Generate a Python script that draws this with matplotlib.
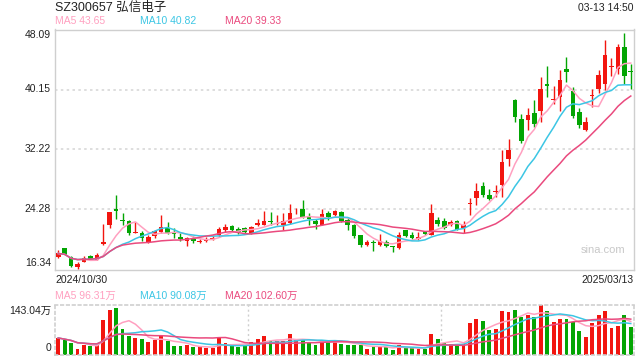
import numpy as np
import pandas as pd
import matplotlib
matplotlib.use("Agg")
import matplotlib.pyplot as plt

plt.rcParams['font.family'] = ['Liberation Sans', 'Noto Sans CJK SC', 'DejaVu Sans']

# daily K-line data, 2024/10/30 .. 2025/03/13
opens = [17.97, 19.12, 18.02, 16.65, 17.35, 18.19, 17.66, 19.70, 22.29, 24.28,
         22.95, 22.82, 21.20, 21.19, 19.96, 20.75, 21.32, 21.85, 21.28, 20.66,
         20.09, 20.44, 19.96, 20.09, 20.40, 20.84, 21.50, 22.16, 21.72, 21.85,
         21.19, 22.20, 22.29, 22.73, 22.40, 22.29, 22.51, 23.75, 24.28, 23.48,
         22.73, 22.29, 23.75, 23.53, 23.93, 22.95, 22.20, 20.84, 19.56, 19.96,
         19.56, 20.00, 19.40, 19.21, 21.50, 20.84, 20.40, 21.28, 20.97, 22.95,
         22.69, 22.20, 22.82, 21.85, 25.00, 25.78, 27.45, 26.26, 26.60, 27.58,
         30.98, 38.74, 36.23, 36.10, 36.98, 37.33, 40.94, 38.80, 39.18, 42.93,
         39.97, 37.20, 34.77, 39.35, 40.28, 40.94, 43.10, 42.84, 45.71, 42.60]
closes = [18.46, 18.24, 16.78, 17.13, 17.84, 17.75, 18.32, 19.96, 23.97, 24.06,
          22.73, 21.19, 21.25, 20.49, 20.66, 21.41, 21.98, 21.19, 21.06, 20.31,
          20.53, 20.09, 20.09, 20.40, 20.45, 21.76, 21.94, 21.63, 21.28, 21.28,
          21.98, 22.51, 22.73, 22.60, 22.50, 22.73, 23.84, 23.84, 23.31, 23.04,
          22.34, 23.62, 23.26, 24.06, 22.73, 22.20, 20.75, 19.56, 19.96, 19.90,
          20.09, 19.43, 19.30, 20.97, 20.75, 20.53, 20.66, 21.01, 23.75, 22.42,
          21.85, 22.69, 21.63, 22.29, 25.10, 26.66, 26.26, 25.69, 26.70, 30.54,
          32.13, 36.49, 33.36, 36.80, 35.57, 40.28, 40.59, 38.90, 41.43, 42.49,
          36.67, 35.43, 35.87, 39.45, 42.09, 44.74, 43.20, 45.84, 41.96, 42.50]
highs = [18.94, 19.20, 18.10, 17.27, 18.15, 18.30, 18.46, 22.30, 24.00, 26.13,
         23.75, 22.90, 22.60, 21.40, 20.97, 21.60, 23.50, 22.60, 21.85, 21.19,
         20.60, 20.75, 20.31, 20.60, 20.75, 21.98, 22.40, 22.20, 21.94, 22.00,
         22.10, 23.04, 24.06, 23.97, 23.60, 23.84, 24.94, 24.50, 25.51, 23.75,
         23.04, 24.28, 24.06, 24.20, 24.06, 23.20, 22.30, 20.97, 20.18, 20.18,
         21.10, 20.30, 19.50, 21.30, 21.63, 21.28, 21.28, 21.40, 25.07, 23.26,
         23.10, 22.95, 22.90, 22.82, 25.82, 27.72, 27.90, 27.05, 27.58, 32.21,
         33.54, 38.92, 36.89, 37.77, 38.74, 41.87, 43.28, 40.63, 42.75, 44.47,
         40.42, 37.77, 36.45, 40.20, 42.75, 46.68, 44.30, 46.15, 47.69, 43.50]
lows = [17.90, 18.20, 16.70, 16.47, 17.30, 17.60, 17.60, 19.60, 21.85, 23.00,
        22.20, 20.97, 21.15, 20.09, 19.78, 20.50, 21.20, 21.00, 20.53, 20.10,
        19.43, 19.90, 19.78, 20.00, 20.20, 20.66, 21.30, 21.28, 21.06, 21.10,
        21.00, 22.10, 22.20, 22.20, 22.20, 21.63, 22.40, 23.70, 23.13, 22.20,
        21.76, 22.20, 22.95, 23.40, 22.60, 21.63, 20.53, 19.30, 19.43, 18.85,
        19.50, 19.30, 18.63, 19.10, 20.60, 20.31, 20.30, 20.90, 20.84, 22.07,
        21.70, 22.07, 21.50, 21.19, 23.61, 24.85, 25.90, 25.50, 25.95, 25.90,
        30.00, 35.83, 33.05, 34.77, 35.20, 35.87, 39.10, 38.20, 37.33, 41.08,
        36.36, 35.10, 34.68, 37.86, 39.67, 40.06, 41.96, 42.18, 40.86, 40.20]
# volume in 万 (10k shares)
volumes = [47.7, 40.9, 33.1, 14.6, 26.3, 24.3, 27.2, 99.2, 128.4, 135.2,
           73.0, 52.5, 48.6, 43.8, 35.0, 40.9, 52.5, 38.9, 23.4, 23.4,
           26.3, 21.4, 21.4, 18.5, 18.5, 47.7, 33.1, 23.4, 21.4, 26.3,
           36.0, 43.8, 52.5, 38.9, 38.0, 38.0, 58.4, 42.8, 42.8, 33.1,
           26.3, 42.8, 36.0, 42.8, 29.2, 26.3, 26.3, 26.3, 16.5, 23.3,
           23.3, 21.4, 11.7, 26.3, 18.5, 18.5, 16.5, 14.6, 58.4, 45.7,
           34.0, 31.1, 26.3, 31.1, 91.5, 102.2, 96.3, 70.1, 73.0, 125.5,
           122.6, 128.4, 109.0, 113.8, 107.0, 143.04, 125.5, 94.4, 102.2, 102.2,
           94.4, 67.1, 50.6, 91.5, 113.8, 125.5, 76.9, 81.7, 113.8, 79.8]

title = "SZ300657 弘信电子"
stamp = "03-13 14:50"
first_date = "2024/10/30"
last_date = "2025/03/13"
price_ticks = [48.09, 40.15, 32.22, 24.28, 16.34]
vol_max = 143.04

RED = "#f2150f"
GREEN = "#03a503"
C_MA5 = "#ffa0c0"
C_MA10 = "#3cc6e4"
C_MA20 = "#ea4a7e"

df = pd.DataFrame({"open": opens, "close": closes, "high": highs,
                   "low": lows, "vol": volumes})
x = np.arange(len(df))
up = df["close"] >= df["open"]
colors = np.where(up, RED, GREEN)

W, H = 640, 360
fig = plt.figure(figsize=(6.4, 3.6), dpi=100)


def px_rect(left, top, right, bottom):
    return [left / W, 1 - bottom / H, (right - left) / W, (bottom - top) / H]


def ftext(px, py, s, **kw):
    fig.text(px / W, 1 - py / H, s, **kw)


# ---- price panel ----
ax = fig.add_axes(px_rect(55, 29.5, 634, 269.5))
ax.set_xlim(-0.5, len(df) - 0.5)
ax.set_ylim(price_ticks[-1], price_ticks[0])
for t in price_ticks[1:-1]:
    ax.axhline(t, color="#d8d8d8", lw=1.2, ls=(0, (1.5, 2)), zorder=0)

ax.vlines(x, df["low"], df["high"], colors=colors, lw=1.0, zorder=2)
body = np.maximum((df["close"] - df["open"]).abs(), 0.12)
bottom = np.minimum(df["open"], df["close"])
ax.bar(x, body, bottom=bottom, width=0.72, color=colors, lw=0, zorder=3)

ma5 = df["close"].rolling(5, min_periods=1).mean()
ma10 = df["close"].rolling(10, min_periods=1).mean()
ma20 = df["close"].rolling(20, min_periods=1).mean()
ax.plot(x, ma5, color=C_MA5, lw=1.1, zorder=4)
ax.plot(x, ma10, color=C_MA10, lw=1.1, zorder=4)
ax.plot(x, ma20, color=C_MA20, lw=1.1, zorder=4)

ax.set_xticks([])
ax.set_yticks([])
for s in ax.spines.values():
    s.set_color("#cfcfcf")
    s.set_linewidth(1.0)
ax.text(0.985, 0.06, "sina.com", transform=ax.transAxes, ha="right",
        va="bottom", color="#c8c8c8", fontsize=8)

# ---- volume panel ----
vax = fig.add_axes(px_rect(55, 305, 634, 354.5))
vax.set_xlim(-0.5, len(df) - 0.5)
vax.set_ylim(0, vol_max)
vax.bar(x, df["vol"], width=0.6, color=colors, lw=0, zorder=2)
vax.plot(x, df["vol"].rolling(5, min_periods=1).mean(), color=C_MA5, lw=1.1, zorder=3)
vax.plot(x, df["vol"].rolling(10, min_periods=1).mean(), color=C_MA10, lw=1.1, zorder=3)
vax.plot(x, df["vol"].rolling(20, min_periods=1).mean(), color=C_MA20, lw=1.1, zorder=3)
for xv in [29.5, 59.5]:
    vax.axvline(xv, color="#cfcfcf", lw=1.0, ls=(0, (1.5, 2)), zorder=0)
vax.set_xticks([])
vax.set_yticks([])
for s in vax.spines.values():
    s.set_color("#cfcfcf")
    s.set_linewidth(1.2)
    s.set_linestyle((0, (1.5, 2)))

# ---- texts ----
ftext(55, 8, title, fontsize=9, color="#222222", va="center", ha="left")
ftext(634, 8, stamp, fontsize=7.5, color="#222222", va="center", ha="right")

ftext(55, 21, "MA5 43.65", fontsize=7.5, color=C_MA5, va="center")
ftext(140, 21, "MA10 40.82", fontsize=7.5, color=C_MA10, va="center")
ftext(225, 21, "MA20 39.33", fontsize=7.5, color=C_MA20, va="center")

label_y = [35, 89, 149, 209, 263]
for t, py in zip(price_ticks, label_y):
    ftext(51, py, f"{t:.2f}", fontsize=7.5, color="#222222", va="center", ha="right")

ftext(55, 280, first_date, fontsize=7.5, color="#222222", va="center", ha="left")
ftext(634, 280, last_date, fontsize=7.5, color="#222222", va="center", ha="right")

ftext(55, 296, "MA5 96.31万", fontsize=7.5, color=C_MA5, va="center")
ftext(140, 296, "MA10 90.08万", fontsize=7.5, color=C_MA10, va="center")
ftext(225, 296, "MA20 102.60万", fontsize=7.5, color=C_MA20, va="center")

ftext(51, 311, f"{vol_max:.2f}万", fontsize=7.5, color="#222222", va="center", ha="right")
ftext(51, 348, "0", fontsize=7.5, color="#222222", va="center", ha="right")

fig.savefig("out.png", dpi=100)
